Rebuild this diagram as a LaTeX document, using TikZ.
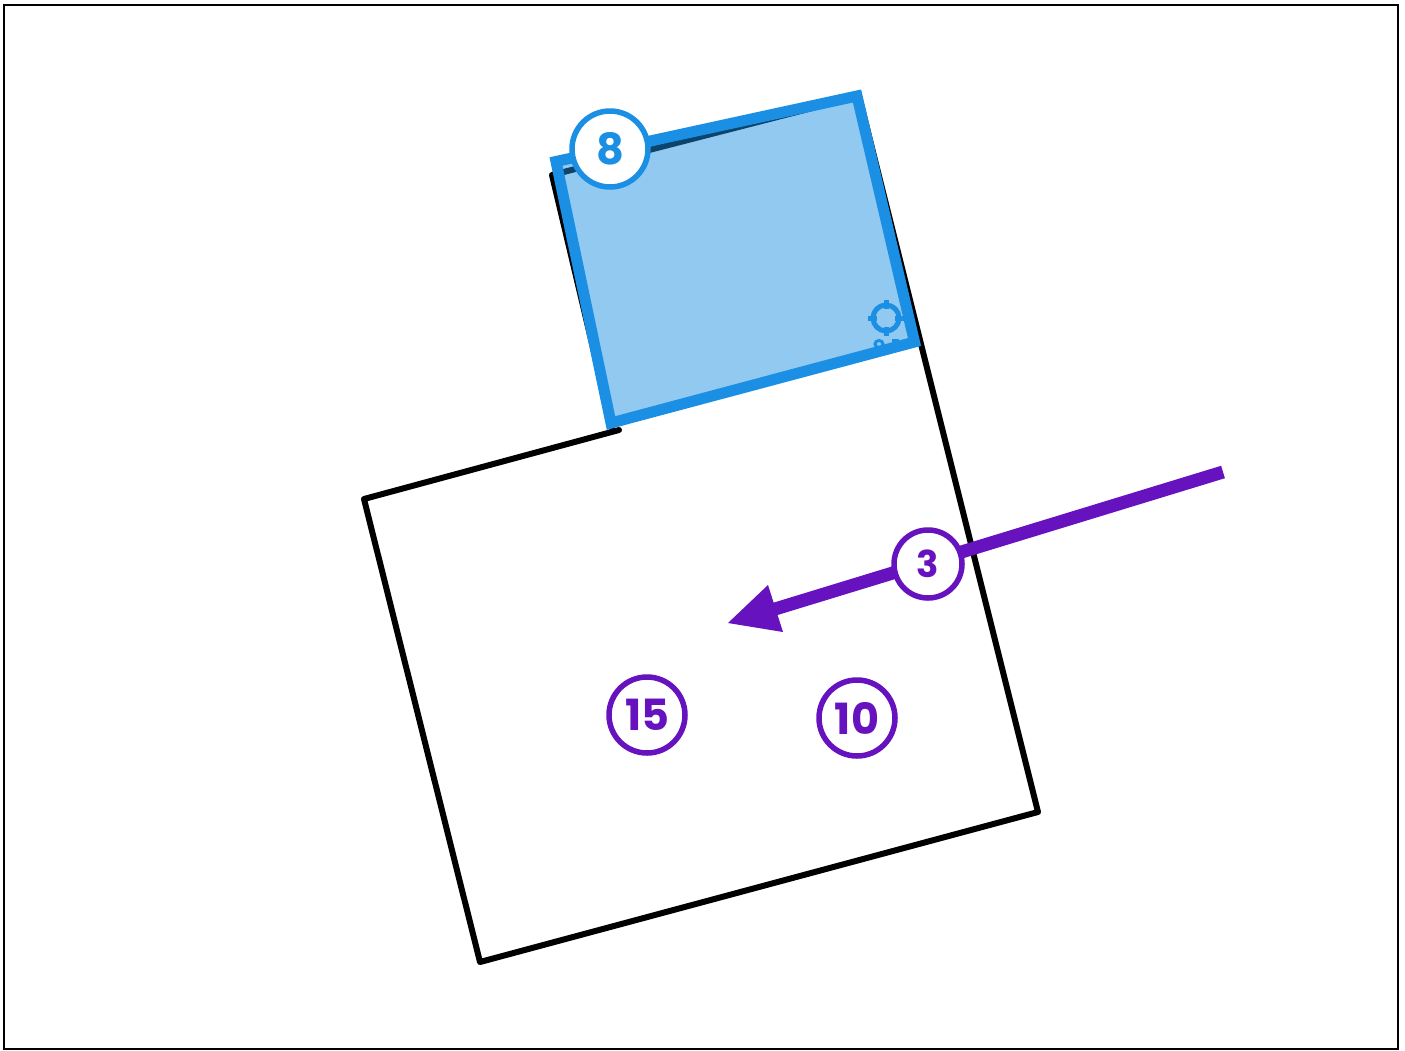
\documentclass[tikz,border=0pt]{standalone}
\usepackage{fontspec}
\setmainfont{Poppins}[BoldFont={Poppins Bold}]
\definecolor{bluec}{HTML}{1B8FE3}
\definecolor{purp}{HTML}{6612BE}
\tikzset{
  badge/.style={circle,draw=#1,text=#1,fill=white,line width=5.5pt,inner sep=0pt,font=\bfseries\fontsize{43}{43}\selectfont},
  walls/.style={draw=black,line width=6pt,line join=round,line cap=round},
}
\begin{document}
\begin{tikzpicture}[x=1pt,y=-1pt]
\useasboundingbox (0,0) rectangle (1405,1050);
\fill[white] (0,0) rectangle (1405,1050);
\draw[black,line width=2.5pt] (4,5) rectangle (1398,1049);
% room outline
\draw[walls] (619,430) -- (364,499) -- (480,962) -- (1038,812) -- (859,96) -- (552,175) -- (612,428);
% selection
\fill[bluec,opacity=.48] (556,161.5) -- (857,96) -- (914.5,342) -- (611,423) -- cycle;
\draw[bluec,line width=5pt] (886,318) circle (13);
\foreach \a/\b/\c/\d in {886/300/886/309, 886/327/886/336, 868/318/877/318, 895/318/904/318}
  \draw[bluec,line width=5pt] (\a,\b) -- (\c,\d);
\draw[bluec,line width=3pt] (879,344) ellipse (4 and 3.5);
\fill[bluec] (892,339) rectangle (899,346);
\draw[bluec,line width=11pt,line join=miter] (556,161.5) -- (857,96) -- (914.5,342) -- (611,423) -- cycle;
\node[badge=bluec,minimum size=76pt] (n8) at (610,149) {8};
% arrow
\coordinate (atail) at (1223,472);
\coordinate (ahead) at (775,609);
\coordinate (atip) at (728,623);
\draw[purp,line width=13pt] (atail) -- (ahead);
\fill[purp] (atip) -- (768,585) -- (783,632) -- cycle;
\node[badge=purp,minimum size=68pt] (n3) at (928,564) {\fontsize{37}{37}\selectfont 3};
\node[badge=purp,minimum size=76pt] (n15) at (647,715) {\hspace{1.5pt}15};
\node[badge=purp,minimum size=76pt] (n10) at (857,718) {10};
\end{tikzpicture}
\end{document}
